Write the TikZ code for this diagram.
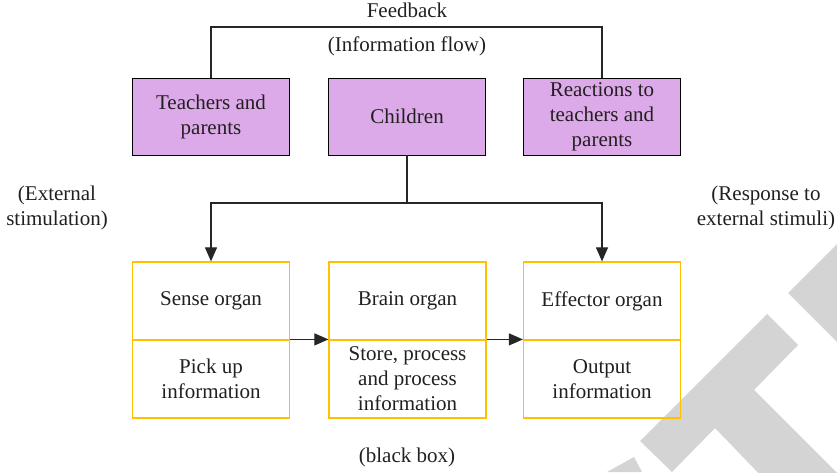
\documentclass[tikz,border=0pt]{standalone}
\usepackage{fontspec}
\setmainfont{Liberation Serif}
\usetikzlibrary{arrows.meta}
\definecolor{boxpurple}{RGB}{220,170,232}
\definecolor{boxyellow}{RGB}{255,192,0}
\definecolor{wmgray}{RGB}{212,212,212}
\definecolor{txt}{RGB}{35,31,32}
\begin{document}
\begin{tikzpicture}[x=1pt,y=-1pt,
  every node/.style={font=\fontsize{21}{25}\selectfont, text=txt, align=center, inner sep=0pt},
  pbox/.style={draw=black, line width=0.9pt, fill=boxpurple, minimum width=157pt, minimum height=77pt},
  ybox/.style={draw=boxyellow, line width=1.2pt, minimum width=157pt, minimum height=78pt},
  conn/.style={draw=black!85, line width=1.1pt},
  arr/.style={conn, -{Triangle[length=14pt,width=12pt]}}]
\useasboundingbox (0,0) rectangle (837,472);
% watermark
\begin{scope}
\clip (0,0) rectangle (837,472);
\fill[wmgray] (767,314) -- (798,345) -- (754,390) -- (845,481) -- (766,481) -- (715,428) -- (672,472) -- (640,441) -- cycle;
\fill[wmgray] (788,293) -- (840,241) -- (840,345) -- cycle;
\fill[wmgray] (607,472) -- (634,457) -- (642,472) -- cycle;
\end{scope}
% top boxes
\node[pbox] (teach) at (211,116.5) {Teachers and\\parents};
\node[pbox] (child) at (407,116.5) {Children};
\node[pbox] (react) at (602,116.5) {Reactions to\\teachers and\\parents};
% labels
\node (fbl) at (407,10) {Feedback};
\node (infl) at (407,46) {(Information flow)};
\node (extl) at (57,208) {(External\\stimulation)};
\node (resl) at (766,208) {(Response to\\external stimuli)};
\node (bbl) at (407,457) {(black box)};
% bottom boxes
\node[ybox] (sense) at (211,301) {Sense organ};
\node[ybox] (pick) at (211,379) {Pick up\\information};
\node[ybox] (brain) at (407.5,301) {Brain organ};
\node[ybox] (store) at (407.5,379) {Store, process\\and process\\information};
\node[ybox] (effect) at (602,301) {Effector organ};
\node[ybox] (output) at (602,379) {Output\\information};
% connectors
\coordinate (fb) at (407,27);
\draw[conn] (teach.north) |- (fb) -| (react.north);
\coordinate (br) at (407,203);
\draw[conn] (child.south) -- (br);
\draw[arr] (br) -| (sense.north);
\draw[arr] (br) -| (effect.north);
\draw[arr] (pick.north east) -- (store.north west);
\draw[arr] (store.north east) -- (output.north west);
\end{tikzpicture}
\end{document}
